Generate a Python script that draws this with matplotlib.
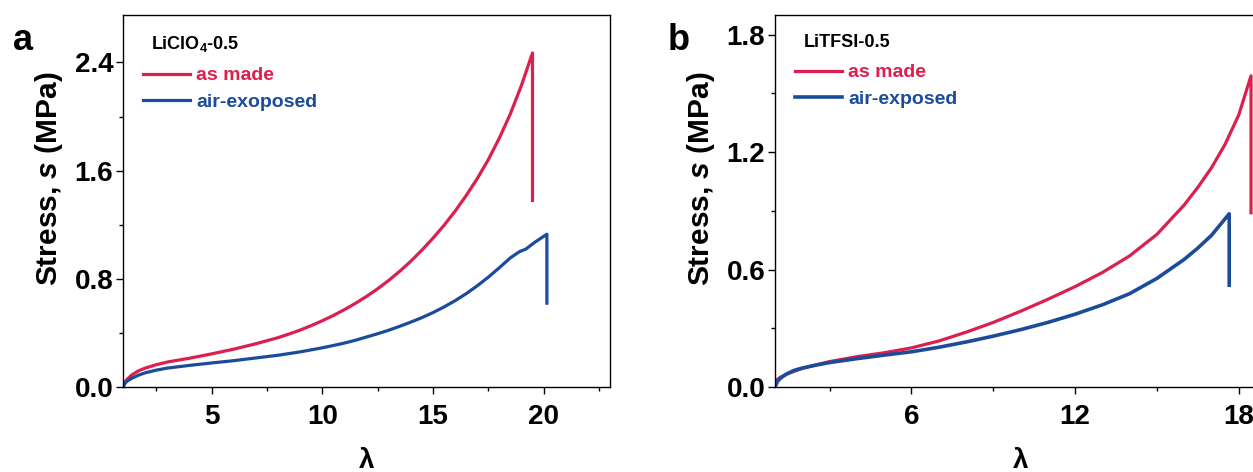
import numpy as np
import matplotlib
matplotlib.use("Agg")
from matplotlib import pyplot as plt
from matplotlib.ticker import MultipleLocator

plt.rcParams["font.family"] = ["Liberation Sans", "DejaVu Sans"]
plt.rcParams["font.weight"] = "bold"
plt.rcParams["mathtext.fontset"] = "custom"
plt.rcParams["mathtext.rm"] = "Liberation Sans:bold"
plt.rcParams["mathtext.bf"] = "Liberation Sans:bold"
plt.rcParams["mathtext.it"] = "Liberation Sans:bold:italic"

RED = "#DC1F4F"
BLUE = "#1B4C9B"

# panel a : LiClO4-0.5
lam_a_made = [1.0, 1.1, 1.2, 1.4, 1.7, 2.0, 2.5, 3.0, 4.0, 5.0, 6.0, 7.0, 8.0, 8.5, 9.0, 9.5,
              10.0, 10.5, 11.0, 11.5, 12.0, 12.5, 13.0, 13.5, 14.0, 14.5, 15.0, 15.5, 16.0,
              16.5, 17.0, 17.5, 18.0, 18.5, 19.0, 19.5, 19.5]
s_a_made = [0.0, 0.04, 0.06, 0.09, 0.12, 0.14, 0.165, 0.185, 0.213, 0.245, 0.28, 0.32, 0.365, 0.392, 0.421, 0.454,
            0.49, 0.529, 0.572, 0.619, 0.67, 0.726, 0.788, 0.856, 0.93, 1.012, 1.10, 1.195, 1.30,
            1.415, 1.54, 1.68, 1.84, 2.02, 2.23, 2.47, 1.38]
lam_a_air = [1.0, 1.1, 1.2, 1.4, 1.7, 2.0, 2.5, 3.0, 4.0, 5.0, 6.0, 7.0, 8.0, 9.0, 10.0, 10.5,
             11.0, 11.5, 12.0, 12.5, 13.0, 13.5, 14.0, 14.5, 15.0, 15.5, 16.0, 16.5, 17.0,
             17.5, 18.0, 18.5, 18.9, 19.2, 19.6, 20.15, 20.15]
s_a_air = [0.0, 0.03, 0.045, 0.065, 0.088, 0.105, 0.125, 0.14, 0.16, 0.178, 0.195, 0.215, 0.235, 0.26, 0.29, 0.307,
           0.325, 0.346, 0.37, 0.394, 0.42, 0.449, 0.48, 0.513, 0.55, 0.592, 0.638, 0.69, 0.748,
           0.812, 0.882, 0.955, 1.00, 1.02, 1.07, 1.13, 0.62]

# panel b : LiTFSI-0.5
lam_b_made = [1.0, 1.2, 1.5, 2.0, 2.5, 3.0, 4.0, 5.0, 6.0, 7.0, 8.0, 9.0, 10.0, 11.0, 12.0,
              13.0, 14.0, 15.0, 16.0, 16.5, 17.0, 17.5, 18.0, 18.45, 18.45]
s_b_made = [0.03, 0.05, 0.07, 0.095, 0.113, 0.13, 0.155, 0.175, 0.20, 0.235, 0.28, 0.33, 0.387, 0.448, 0.513,
            0.585, 0.67, 0.78, 0.93, 1.02, 1.12, 1.24, 1.39, 1.59, 0.89]
lam_b_air = [1.0, 1.1, 1.2, 1.4, 1.7, 2.0, 2.5, 3.0, 4.0, 5.0, 6.0, 7.0, 8.0, 9.0, 10.0, 11.0,
             12.0, 13.0, 14.0, 15.0, 16.0, 16.5, 17.0, 17.65, 17.65]
s_b_air = [0.0, 0.03, 0.045, 0.065, 0.085, 0.097, 0.112, 0.125, 0.145, 0.163, 0.18, 0.203, 0.23, 0.26, 0.293, 0.33,
           0.372, 0.42, 0.477, 0.555, 0.652, 0.71, 0.775, 0.885, 0.52]

fig = plt.figure(figsize=(12.53, 4.72), dpi=100)
ax1 = fig.add_axes([0.0982, 0.180, 0.3886, 0.788])
ax2 = fig.add_axes([0.6185, 0.180, 0.3919, 0.788])


def style(ax, xmaj, xmin, ymaj, ymin):
    ax.xaxis.set_major_locator(MultipleLocator(xmaj))
    ax.xaxis.set_minor_locator(MultipleLocator(xmin))
    ax.yaxis.set_major_locator(MultipleLocator(ymaj))
    ax.yaxis.set_minor_locator(MultipleLocator(ymin))
    ax.tick_params(which="major", direction="out", length=5, width=1, labelsize=20)
    ax.tick_params(which="minor", direction="out", length=3, width=1)
    ax.tick_params(axis="x", pad=7)
    ax.tick_params(axis="y", pad=2)
    for sp in ax.spines.values():
        sp.set_linewidth(1.0)
    ax.set_xlabel("λ", fontsize=20, fontweight="bold", labelpad=13)
    ax.set_ylabel(r"Stress, $\mathit{s}$ (MPa)", fontsize=21.5, fontweight="bold", labelpad=7)
    ax.yaxis.label.set_y(0.56)


ax1.plot(lam_a_made, s_a_made, color=RED, lw=2.3, label="as made")
ax1.plot(lam_a_air, s_a_air, color=BLUE, lw=2.3, label="air-exoposed")
ax1.set_xlim(1, 23)
ax1.set_ylim(0, 2.75)
style(ax1, 5, 2.5, 0.8, 0.4)
ax1.set_xticks([5, 10, 15, 20])

ax2.plot(lam_b_made, s_b_made, color=RED, lw=2.3, label="as made")
ax2.plot(lam_b_air, s_b_air, color=BLUE, lw=2.6, label="air-exposed")
ax2.set_xlim(1, 19)
ax2.set_ylim(0, 1.9)
style(ax2, 6, 3, 0.6, 0.3)
ax2.set_xticks([6, 12, 18])

for ax, title in [(ax1, r"LiClO$_4$-0.5"), (ax2, "LiTFSI-0.5")]:
    leg = ax.legend(loc="upper left", bbox_to_anchor=(0.014, 0.975), frameon=False,
                    title=title, alignment="left", labelcolor="linecolor",
                    prop={"size": 14, "weight": "bold"}, title_fontproperties={"size": 13, "weight": "bold"},
                    handlelength=2.4, handletextpad=0.3, labelspacing=0.45, borderpad=0.2)
    leg.get_title().set_position((8, 4))

fig.text(0.010, 0.895, "a", fontsize=26, fontweight="bold")
fig.text(0.533, 0.895, "b", fontsize=26, fontweight="bold")

fig.savefig("out.png", dpi=100)
